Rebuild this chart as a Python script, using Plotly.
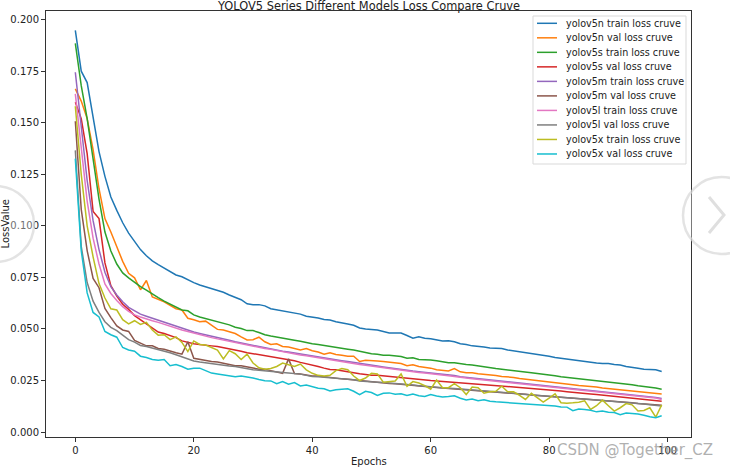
import plotly.graph_objects as go

epochs = list(range(100))

yolov5n_train = [0.1948, 0.175, 0.1695, 0.152, 0.136, 0.124, 0.114, 0.1075, 0.1015, 0.0965,
                 0.0925, 0.0885, 0.0855, 0.083, 0.0812, 0.0795, 0.0775, 0.0762, 0.0753, 0.0738,
                 0.0725, 0.0713, 0.0705, 0.0695, 0.0688, 0.0678, 0.0665, 0.0655, 0.0642, 0.0622,
                 0.0618, 0.0618, 0.0612, 0.0598, 0.0593, 0.0588, 0.0582, 0.0578, 0.0572, 0.0562,
                 0.0558, 0.0553, 0.0546, 0.0543, 0.0535, 0.0528, 0.0524, 0.0518, 0.0505, 0.0500,
                 0.0498, 0.0495, 0.0488, 0.0481, 0.048, 0.048, 0.0468, 0.0455, 0.0462, 0.0455,
                 0.0452, 0.0448, 0.0442, 0.0443, 0.0438, 0.0428, 0.0425, 0.0418, 0.0416, 0.0412,
                 0.0408, 0.0408, 0.0405, 0.0398, 0.0394, 0.0388, 0.0384, 0.0382, 0.0378, 0.0372,
                 0.0368, 0.0362, 0.0358, 0.0353, 0.0348, 0.0344, 0.0342, 0.0338, 0.0335, 0.0332,
                 0.0332, 0.0328, 0.0325, 0.0318, 0.0315, 0.0309, 0.0305, 0.0305, 0.0302, 0.0294]

yolov5n_val = [0.1664, 0.1605, 0.152, 0.137, 0.118, 0.1035, 0.097, 0.0898, 0.0828, 0.077,
               0.0748, 0.069, 0.0735, 0.0655, 0.0645, 0.0632, 0.0615, 0.0598, 0.0592, 0.0552,
               0.0545, 0.0535, 0.0538, 0.0518, 0.0498, 0.0495, 0.0485, 0.0478, 0.0462, 0.0447,
               0.0448, 0.046, 0.0438, 0.0425, 0.0428, 0.0415, 0.0413, 0.0405, 0.0398, 0.0405,
               0.0394, 0.0388, 0.0378, 0.0385, 0.0376, 0.0372, 0.0368, 0.0368, 0.0342, 0.0348,
               0.0348, 0.0345, 0.0342, 0.0338, 0.0335, 0.0332, 0.0322, 0.0326, 0.0318, 0.0315,
               0.031, 0.0302, 0.0298, 0.0296, 0.0308, 0.0292, 0.0288, 0.0288, 0.0283, 0.0281,
               0.0278, 0.0274, 0.027, 0.0268, 0.0265, 0.026, 0.0257, 0.0253, 0.025, 0.0248,
               0.0244, 0.0241, 0.0236, 0.0233, 0.023, 0.0226, 0.0224, 0.022, 0.0218, 0.0214,
               0.0211, 0.0208, 0.0205, 0.0201, 0.0199, 0.0196, 0.0193, 0.019, 0.0188, 0.0185]

yolov5s_train = [0.1885, 0.168, 0.152, 0.132, 0.113, 0.097, 0.0878, 0.0815, 0.0772, 0.0748,
                 0.0725, 0.0705, 0.0688, 0.0668, 0.0652, 0.0635, 0.062, 0.0605, 0.0592, 0.0588,
                 0.0568, 0.0558, 0.0551, 0.0542, 0.0535, 0.053, 0.052, 0.0508, 0.0502, 0.0492,
                 0.0492, 0.0483, 0.0472, 0.0466, 0.046, 0.0455, 0.0448, 0.0445, 0.044, 0.0433,
                 0.0428, 0.0425, 0.042, 0.0414, 0.041, 0.0405, 0.0402, 0.0398, 0.0391, 0.0384,
                 0.038, 0.0377, 0.0372, 0.0372, 0.0368, 0.0366, 0.0358, 0.036, 0.0352, 0.0352,
                 0.035, 0.0346, 0.0342, 0.0336, 0.0336, 0.0331, 0.0328, 0.0325, 0.032, 0.0316,
                 0.0313, 0.0308, 0.0305, 0.0302, 0.03, 0.0295, 0.0292, 0.0288, 0.0284, 0.0281,
                 0.0276, 0.0273, 0.0268, 0.0265, 0.0262, 0.0258, 0.0254, 0.0252, 0.0248, 0.0246,
                 0.0243, 0.0238, 0.0236, 0.0233, 0.023, 0.0225, 0.0222, 0.0218, 0.0214, 0.0208]

yolov5s_val = [0.160, 0.152, 0.135, 0.107, 0.1035, 0.082, 0.071, 0.066, 0.062, 0.0595,
               0.0565, 0.0545, 0.0525, 0.0505, 0.0485, 0.0478, 0.0468, 0.0458, 0.0442, 0.0435,
               0.0428, 0.0425, 0.042, 0.0418, 0.0415, 0.041, 0.0402, 0.0398, 0.0392, 0.0385,
               0.038, 0.0375, 0.0372, 0.0368, 0.0362, 0.0358, 0.0352, 0.0346, 0.0338, 0.0332,
               0.0325, 0.0318, 0.031, 0.0303, 0.0302, 0.0298, 0.0295, 0.0288, 0.0283, 0.0278,
               0.0276, 0.0275, 0.0272, 0.0268, 0.0265, 0.0262, 0.0262, 0.0258, 0.0256, 0.0253,
               0.025, 0.0248, 0.0246, 0.0244, 0.0242, 0.024, 0.0238, 0.0235, 0.0232, 0.023,
               0.0228, 0.0226, 0.0225, 0.0222, 0.0219, 0.0216, 0.0214, 0.0212, 0.021, 0.0208,
               0.0205, 0.0202, 0.0199, 0.0196, 0.0194, 0.0191, 0.0188, 0.0185, 0.0182, 0.0179,
               0.0176, 0.0174, 0.0171, 0.0168, 0.0165, 0.0162, 0.0159, 0.0156, 0.0153, 0.0149]

yolov5m_train = [0.1745, 0.148, 0.122, 0.1025, 0.0885, 0.0775, 0.0705, 0.0665, 0.0632, 0.0605,
                 0.0588, 0.0572, 0.0562, 0.0552, 0.0543, 0.0535, 0.0525, 0.0515, 0.0502, 0.0495,
                 0.0485, 0.0478, 0.0472, 0.0465, 0.0458, 0.0452, 0.0445, 0.0438, 0.0432, 0.0428,
                 0.0422, 0.0415, 0.0408, 0.0405, 0.0398, 0.0392, 0.0388, 0.0383, 0.0378, 0.0373,
                 0.0368, 0.0363, 0.0358, 0.0355, 0.035, 0.0346, 0.0342, 0.0337, 0.0332, 0.0328,
                 0.0324, 0.032, 0.0316, 0.0312, 0.0305, 0.0302, 0.0299, 0.0296, 0.0293, 0.029,
                 0.0286, 0.0283, 0.028, 0.0277, 0.0274, 0.0268, 0.0265, 0.0263, 0.026, 0.0257,
                 0.0254, 0.0251, 0.0248, 0.0245, 0.0242, 0.0238, 0.0235, 0.0232, 0.023, 0.0226,
                 0.0224, 0.0221, 0.0218, 0.0214, 0.0211, 0.0208, 0.0205, 0.0202, 0.0199, 0.0196,
                 0.0193, 0.019, 0.0187, 0.0184, 0.0181, 0.0178, 0.0174, 0.0171, 0.0168, 0.0163]

yolov5m_val = [0.1507, 0.108, 0.088, 0.0745, 0.07, 0.06, 0.0555, 0.0515, 0.0495, 0.0488,
               0.0445, 0.0432, 0.0418, 0.0418, 0.0405, 0.0402, 0.0392, 0.0385, 0.0378, 0.0438,
               0.0358, 0.0352, 0.0348, 0.0342, 0.034, 0.0335, 0.0328, 0.0322, 0.0322, 0.0318,
               0.0311, 0.0305, 0.0305, 0.0298, 0.0292, 0.0285, 0.0355, 0.0284, 0.0282, 0.0278,
               0.0272, 0.0272, 0.0268, 0.0265, 0.0262, 0.0258, 0.0256, 0.0253, 0.0248, 0.0246,
               0.0243, 0.024, 0.0238, 0.0236, 0.0234, 0.0231, 0.0228, 0.0226, 0.0224, 0.0221,
               0.0219, 0.0216, 0.0214, 0.0212, 0.021, 0.0208, 0.0205, 0.0203, 0.02, 0.0198,
               0.0196, 0.0194, 0.0191, 0.0189, 0.0187, 0.0185, 0.0183, 0.018, 0.0178, 0.0176,
               0.0173, 0.0171, 0.0169, 0.0167, 0.0164, 0.0162, 0.016, 0.0158, 0.0155, 0.0153,
               0.0151, 0.0149, 0.0146, 0.0144, 0.0142, 0.0139, 0.0137, 0.0135, 0.0132, 0.013]

yolov5l_train = [0.164, 0.139, 0.112, 0.094, 0.0815, 0.0718, 0.0672, 0.0638, 0.0608, 0.0585,
                 0.0568, 0.0558, 0.0548, 0.054, 0.0532, 0.0522, 0.0512, 0.0505, 0.0495, 0.0488,
                 0.048, 0.0472, 0.0466, 0.0458, 0.0452, 0.0446, 0.0438, 0.0433, 0.0428, 0.0422,
                 0.0416, 0.041, 0.0405, 0.0401, 0.0395, 0.039, 0.0385, 0.038, 0.0374, 0.037,
                 0.0365, 0.036, 0.0355, 0.035, 0.0346, 0.0342, 0.0338, 0.0333, 0.0328, 0.0324,
                 0.032, 0.0316, 0.0312, 0.0308, 0.0302, 0.0299, 0.0296, 0.0292, 0.0289, 0.0286,
                 0.0282, 0.0279, 0.0276, 0.0273, 0.027, 0.0265, 0.0262, 0.0259, 0.0256, 0.0253,
                 0.025, 0.0247, 0.0244, 0.0241, 0.0238, 0.0235, 0.0232, 0.0229, 0.0226, 0.0223,
                 0.022, 0.0217, 0.0214, 0.0211, 0.0208, 0.0205, 0.0202, 0.0199, 0.0196, 0.0193,
                 0.019, 0.0187, 0.0184, 0.0181, 0.0178, 0.0174, 0.0171, 0.0168, 0.0165, 0.0158]

yolov5l_val = [0.1366, 0.09, 0.0725, 0.0635, 0.058, 0.0535, 0.0508, 0.0492, 0.047, 0.0448,
               0.0436, 0.042, 0.0415, 0.0408, 0.04, 0.0392, 0.0385, 0.0375, 0.0365, 0.0355,
               0.0345, 0.034, 0.0336, 0.0332, 0.0327, 0.0322, 0.032, 0.0318, 0.0312, 0.0306,
               0.0302, 0.03, 0.0298, 0.0295, 0.0292, 0.0289, 0.0286, 0.0284, 0.0281, 0.0275,
               0.0269, 0.0268, 0.0266, 0.0264, 0.0262, 0.026, 0.0257, 0.0254, 0.0248, 0.0245,
               0.0243, 0.0242, 0.024, 0.0238, 0.0237, 0.0234, 0.023, 0.0228, 0.0225, 0.0222,
               0.022, 0.0218, 0.0215, 0.0213, 0.0211, 0.0209, 0.0207, 0.0204, 0.0201, 0.0199,
               0.0197, 0.0194, 0.0192, 0.019, 0.0188, 0.0185, 0.0183, 0.018, 0.0178, 0.0176,
               0.0173, 0.0171, 0.0169, 0.0166, 0.0164, 0.0162, 0.016, 0.0158, 0.0156, 0.0153,
               0.0151, 0.0148, 0.0146, 0.0143, 0.0141, 0.0139, 0.0136, 0.0133, 0.013, 0.0127]

yolov5x_train = [0.158, 0.125, 0.1, 0.085, 0.072, 0.065, 0.0598, 0.0592, 0.0545, 0.0525,
                 0.054, 0.0522, 0.0532, 0.0495, 0.047, 0.0472, 0.0448, 0.0462, 0.0435, 0.039,
                 0.0442, 0.0425, 0.0422, 0.041, 0.0398, 0.0355, 0.0395, 0.038, 0.0352, 0.0378,
                 0.0335, 0.0312, 0.0305, 0.0308, 0.0318, 0.0335, 0.0328, 0.0318, 0.033, 0.0302,
                 0.0285, 0.0275, 0.0272, 0.0275, 0.0298, 0.0308, 0.0302, 0.0272, 0.025, 0.0262,
                 0.0285, 0.0282, 0.0242, 0.0245, 0.0248, 0.0282, 0.0222, 0.0245, 0.0238, 0.0225,
                 0.0208, 0.0252, 0.0215, 0.0215, 0.0235, 0.0215, 0.0182, 0.0218, 0.0215, 0.0188,
                 0.0195, 0.0198, 0.0222, 0.0195, 0.0195, 0.0178, 0.0158, 0.0188, 0.0165, 0.0145,
                 0.0165, 0.0185, 0.0142, 0.014, 0.0142, 0.0145, 0.0152, 0.011, 0.0128, 0.0155,
                 0.0128, 0.0102, 0.0118, 0.0138, 0.0132, 0.0102, 0.0105, 0.0118, 0.0072, 0.0132]

yolov5x_val = [0.1326, 0.088, 0.0675, 0.058, 0.0558, 0.0488, 0.0472, 0.046, 0.041, 0.0398,
               0.0392, 0.0368, 0.0362, 0.0352, 0.0348, 0.0352, 0.0322, 0.0328, 0.0318, 0.0305,
               0.031, 0.031, 0.0298, 0.0286, 0.0282, 0.0278, 0.0272, 0.0268, 0.0272, 0.0268,
               0.0262, 0.0255, 0.0249, 0.0248, 0.0235, 0.0245, 0.0232, 0.024, 0.0224, 0.0228,
               0.0219, 0.0213, 0.021, 0.0199, 0.0205, 0.0208, 0.021, 0.0198, 0.0181, 0.0198,
               0.0192, 0.0178, 0.0188, 0.019, 0.0184, 0.0186, 0.0178, 0.0185, 0.0176, 0.0173,
               0.0182, 0.0175, 0.017, 0.0172, 0.0176, 0.0164, 0.0156, 0.016, 0.0152, 0.0157,
               0.015, 0.0147, 0.0145, 0.0144, 0.0142, 0.0139, 0.0137, 0.0136, 0.0133, 0.0131,
               0.0128, 0.0126, 0.0122, 0.0121, 0.0104, 0.0112, 0.011, 0.0106, 0.0098, 0.0102,
               0.0096, 0.0095, 0.0084, 0.0092, 0.009, 0.0088, 0.0082, 0.0074, 0.007, 0.0079]

series_names = ["yolov5n train loss cruve", "yolov5n val loss cruve",
                "yolov5s train loss cruve", "yolov5s val loss cruve",
                "yolov5m train loss cruve", "yolov5m val loss cruve",
                "yolov5l train loss cruve", "yolov5l val loss cruve",
                "yolov5x train loss cruve", "yolov5x val loss cruve"]
series_values = [yolov5n_train, yolov5n_val, yolov5s_train, yolov5s_val,
                 yolov5m_train, yolov5m_val, yolov5l_train, yolov5l_val,
                 yolov5x_train, yolov5x_val]
colors = ["#1f77b4", "#ff7f0e", "#2ca02c", "#d62728", "#9467bd",
          "#8c564b", "#e377c2", "#7f7f7f", "#bcbd22", "#17becf"]

title_text = "YOLOV5 Series Different Models Loss Compare Cruve"
x_title = "Epochs"
y_title = "LossValue"
watermark = "CSDN @Together_CZ"

x_ticks = [0, 20, 40, 60, 80, 100]
y_ticks = [0.0, 0.025, 0.05, 0.075, 0.1, 0.125, 0.15, 0.175, 0.2]
y_ticklabels = ["0.000", "0.025", "0.050", "0.075", "0.100", "0.125", "0.150", "0.175", "0.200"]

FONT = "DejaVu Sans"
TEXT = "#222222"

W, H = 730, 467
L, R, T, B = 46, 39, 11, 30
PW, PH = W - L - R, H - T - B


def px(xp):
    return (xp - L) / PW


def py(yp):
    return (H - B - yp) / PH


fig = go.Figure()
for name, vals, c in zip(series_names, series_values, colors):
    fig.add_trace(go.Scatter(x=epochs, y=vals, mode="lines", name=name,
                             line=dict(color=c, width=1.5), showlegend=False))

xmin, xmax = min(epochs), max(epochs)
allv = [v for s in series_values for v in s]
ymin, ymax = min(allv), max(allv)
xpad = 0.05 * (xmax - xmin)
ypad = 0.05 * (ymax - ymin)

axis_common = dict(showline=True, linecolor="#333333", linewidth=1, mirror=True,
                   ticks="outside", ticklen=4, tickcolor="#333333", tickwidth=1,
                   showgrid=False, zeroline=False,
                   tickfont=dict(family=FONT, size=10, color=TEXT))

fig.update_layout(
    width=W, height=H,
    margin=dict(l=L, r=R, t=T, b=B),
    paper_bgcolor="white", plot_bgcolor="white",
    font=dict(family=FONT, size=10, color=TEXT),
    showlegend=False,
    xaxis=dict(range=[xmin - xpad, xmax + xpad], tickvals=x_ticks, **axis_common),
    yaxis=dict(range=[ymin - ypad, ymax + ypad], tickvals=y_ticks,
               ticktext=y_ticklabels, **axis_common),
)

# faint circular page decorations (left and right edges)
fig.add_shape(type="circle", xref="paper", yref="paper",
              x0=px(-42), x1=px(34), y0=py(262), y1=py(186),
              line=dict(color="rgba(215,215,215,0.7)", width=2.5),
              fillcolor="rgba(255,255,255,0.35)", layer="above")
fig.add_shape(type="circle", xref="paper", yref="paper",
              x0=px(683), x1=px(760), y0=py(254), y1=py(177),
              line=dict(color="rgba(215,215,215,0.7)", width=2.5),
              fillcolor="rgba(255,255,255,0.35)", layer="above")
fig.add_shape(type="path", xref="paper", yref="paper",
              path=f"M {px(709)},{py(197)} L {px(724)},{py(215)} L {px(709)},{py(233)}",
              line=dict(color="rgba(215,215,215,0.8)", width=3), layer="above")

# legend box drawn to match the compact matplotlib legend
leg_x0, leg_x1, leg_y0, leg_y1 = 533, 686, 16, 164
fig.add_shape(type="rect", xref="paper", yref="paper",
              x0=px(leg_x0), x1=px(leg_x1), y0=py(leg_y1), y1=py(leg_y0),
              line=dict(color="#d9d9d9", width=1), fillcolor="rgba(255,255,255,0.85)",
              layer="above")
row0, row_h = 23.3, 14.52
for i, (name, c) in enumerate(zip(series_names, colors)):
    yc = row0 + i * row_h
    fig.add_shape(type="line", xref="paper", yref="paper",
                  x0=px(537), x1=px(557), y0=py(yc), y1=py(yc),
                  line=dict(color=c, width=1.5), layer="above")
    fig.add_annotation(text=name, xref="paper", yref="paper", x=px(564), y=py(yc),
                       xanchor="left", yanchor="middle", showarrow=False,
                       font=dict(family=FONT, size=9.6, color=TEXT))

fig.add_annotation(text=title_text, xref="paper", yref="paper", x=0.5, y=1,
                   xanchor="center", yanchor="bottom", yshift=-4, showarrow=False,
                   font=dict(family=FONT, size=11.4, color=TEXT))
fig.add_annotation(text=x_title, xref="paper", yref="paper", x=0.5, y=0,
                   xanchor="center", yanchor="top", yshift=-17, showarrow=False,
                   font=dict(family=FONT, size=10, color=TEXT))
fig.add_annotation(text=y_title, xref="paper", yref="paper", x=0, y=py(224),
                   xanchor="right", yanchor="middle", xshift=-34, textangle=-90,
                   showarrow=False, font=dict(family=FONT, size=10, color=TEXT))
fig.add_annotation(text=watermark, xref="paper", yref="paper", x=1, y=0,
                   xanchor="right", yanchor="top", xshift=24, yshift=-2, showarrow=False,
                   font=dict(family=FONT, size=15, color="rgba(150,150,150,0.75)"))

fig.write_html("out.html", config={"displayModeBar": False},
               post_script="document.body.style.margin='0';document.body.style.overflow='hidden';")
